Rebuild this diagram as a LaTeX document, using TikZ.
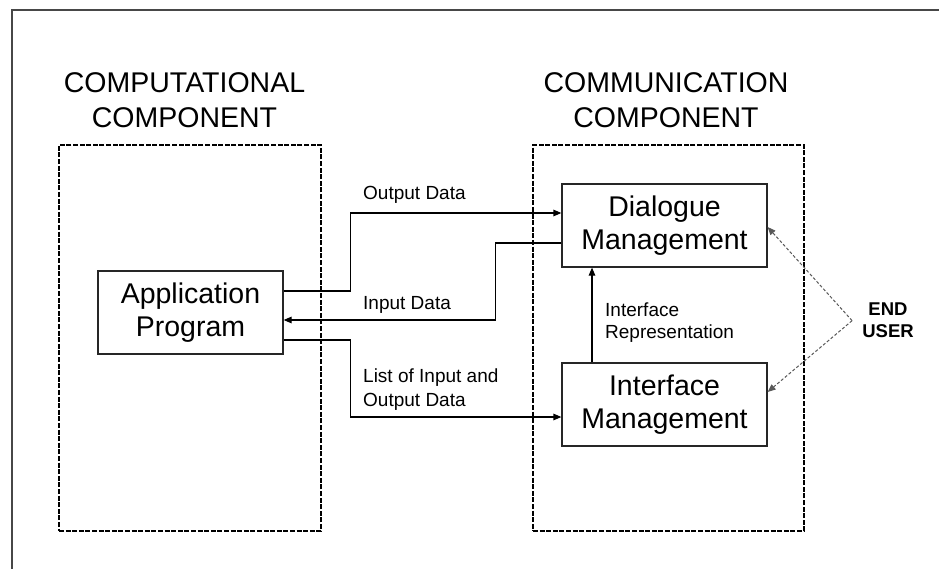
\documentclass[tikz,border=0pt]{standalone}
\usepackage{fontspec}
\setmainfont{Liberation Sans}
\usetikzlibrary{arrows.meta}
\begin{document}
\begin{tikzpicture}[x=1pt,y=-1pt,
  frame/.style={draw=black!72, line width=2pt},
  dbox/.style={draw=black, line width=1.1pt, dash pattern=on 5pt off 1.6pt, inner sep=0pt},
  box/.style={draw=black!85, line width=1.2pt, minimum height=83pt, inner sep=0pt,
    align=center, font=\fontsize{28.5}{33}\selectfont},
  title/.style={inner sep=0pt, anchor=north, align=center, font=\fontsize{28.5}{35}\selectfont},
  lbl/.style={inner sep=0pt, anchor=north west, align=left, font=\fontsize{19}{23.5}\selectfont},
  user/.style={inner sep=0pt, anchor=north, align=center, font=\fontsize{18.5}{22}\selectfont\bfseries},
  arr/.style={draw=black, line width=1.2pt, -{Triangle[length=8pt,width=6.5pt]}},
  uarr/.style={draw=black!65, line width=1pt, dash pattern=on 3pt off 2pt,
    -{Triangle[length=8pt,width=6.5pt]}}
]
\useasboundingbox (0,0) rectangle (939,569);

% page frame (top and left edges)
\draw[frame] (12,569) -- (12,10) -- (939,10);

% component titles
\node[title] (tcomp) at (184.5,72) {COMPUTATIONAL\\COMPONENT};
\node[title] (tcomm) at (666,72) {COMMUNICATION\\COMPONENT};

% component regions
\node[dbox, minimum width=262pt, minimum height=386pt] (comp) at (190,338) {};
\node[dbox, minimum width=271pt, minimum height=386pt] (comm) at (668.5,338) {};

% modules
\node[box, minimum width=185pt] (ap)  at (190.5,312.5) {Application\\Program};
\node[box, minimum width=205pt] (dlg) at (664.5,225.5) {Dialogue\\Management};
\node[box, minimum width=205pt] (ifm) at (664.5,404.5) {Interface\\Management};

% data flows
\draw[arr] ([yshift=21.5pt]ap.east) -- ++(67,0) |- ([yshift=12.5pt]dlg.west);
\draw[arr] ([yshift=-17.5pt]dlg.west) -- ++(-66,0) |- ([yshift=-7.5pt]ap.east);
\draw[arr] ([yshift=-27.5pt]ap.east) -- ++(67,0) |- ([yshift=-12.5pt]ifm.west);
\draw[arr] ([xshift=-72.5pt]ifm.north) -- ([xshift=-72.5pt]dlg.south);

% flow labels
\node[lbl] (lout) at (363,186) {Output Data};
\node[lbl] (lin)  at (363,296) {Input Data};
\node[lbl] (llist) at (363,369) {List of Input and\\Output Data};
\node[lbl, font=\fontsize{19}{22}\selectfont] (lrep) at (605,303) {Interface\\Representation};

% end user
\node[user] (user) at (888,303) {END\\USER};
\coordinate (eu) at ([xshift=-10pt]user.west);
\draw[uarr] (eu) -- ([yshift=-1.5pt]dlg.east);
\draw[uarr] (eu) -- ([yshift=12.5pt]ifm.east);
\end{tikzpicture}
\end{document}
